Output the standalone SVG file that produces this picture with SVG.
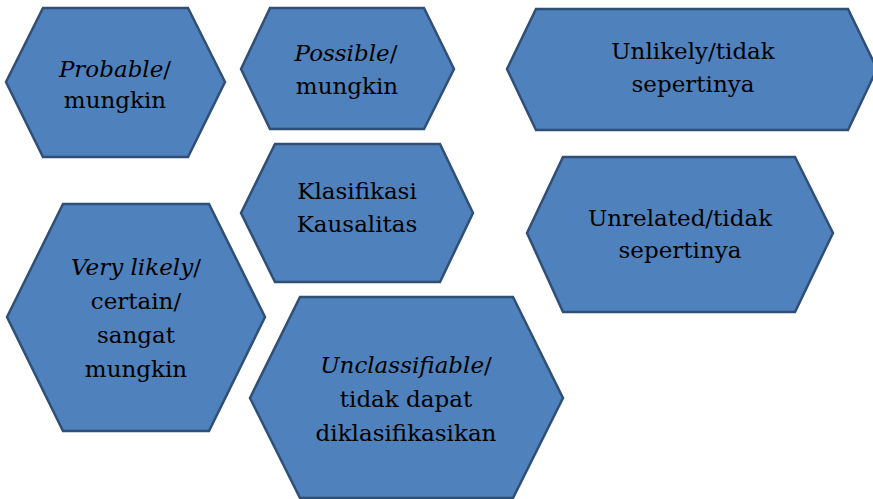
<svg xmlns="http://www.w3.org/2000/svg" width="873" height="499" viewBox="0 0 873 499">
<style>
.hex{fill:#4F81BD;stroke:#2F4F76;stroke-width:2.5;stroke-linejoin:miter}
.t{font-family:"DejaVu Serif","Liberation Serif",serif;font-size:23px;fill:#000;text-anchor:middle}
.i{font-style:italic}
</style>
<rect width="873" height="499" fill="#fff"/>
<g id="connectors"></g>
<g id="probable">
<polygon class="hex" points="6,82 43,8 188,8 225,82 188,157 43,157"/>
<text class="t" x="115" y="77"><tspan class="i">Probable</tspan>/</text>
<text class="t" x="115" y="108">mungkin</text>
</g>
<g id="possible">
<polygon class="hex" points="241,69 270,8 424,8 454,69 424,129 270,129"/>
<text class="t" x="346" y="61"><tspan class="i">Possible</tspan>/</text>
<text class="t" x="347" y="94">mungkin</text>
</g>
<g id="unlikely">
<polygon class="hex" points="507,69 536,9 848,9 877,69 848,130 536,130"/>
<text class="t" x="693" y="59">Unlikely/tidak</text>
<text class="t" x="693" y="92">sepertinya</text>
</g>
<g id="klasifikasi">
<polygon class="hex" points="241,213 275,144 440,144 473,213 440,282 275,282"/>
<text class="t" x="357" y="199">Klasifikasi</text>
<text class="t" x="357" y="232">Kausalitas</text>
</g>
<g id="unrelated">
<polygon class="hex" points="527,233 563,157 795,157 833,233 795,312 563,312"/>
<text class="t" x="680" y="226">Unrelated/tidak</text>
<text class="t" x="680" y="258">sepertinya</text>
</g>
<g id="verylikely">
<polygon class="hex" points="7,317 63,204 209,204 265,317 209,431 63,431"/>
<text class="t" x="136" y="275"><tspan class="i">Very likely</tspan>/</text>
<text class="t" x="136" y="309">certain/</text>
<text class="t" x="136" y="343">sangat</text>
<text class="t" x="136" y="377">mungkin</text>
</g>
<g id="unclassifiable">
<polygon class="hex" points="250,398 300,297 513,297 563,398 513,498 300,498"/>
<text class="t" x="406" y="373"><tspan class="i">Unclassifiable</tspan>/</text>
<text class="t" x="406" y="407">tidak dapat</text>
<text class="t" x="406" y="441">diklasifikasikan</text>
</g>
</svg>
